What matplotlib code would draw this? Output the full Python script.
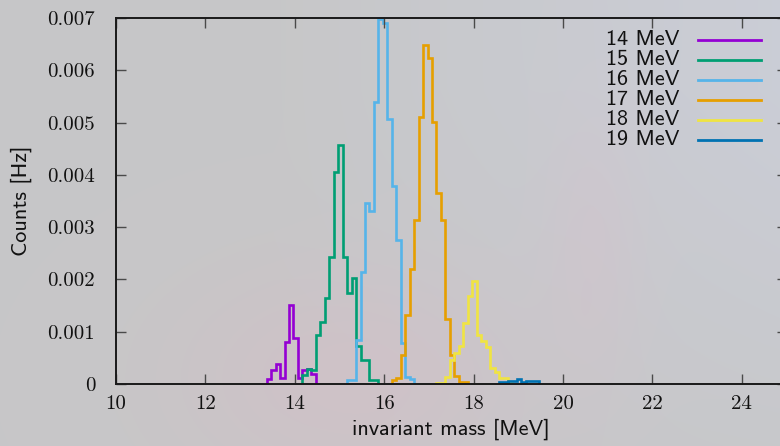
import numpy as np
import matplotlib
matplotlib.use("Agg")
import matplotlib.pyplot as plt
from matplotlib.lines import Line2D

plt.rcParams["axes.formatter.use_mathtext"] = True

# histogram data: 0.1 MeV bins, first bin edge for each beam energy
bin_width = 0.1
labels = ["14 MeV", "15 MeV", "16 MeV", "17 MeV", "18 MeV", "19 MeV"]
colors = ["#9400d3", "#009e73", "#56b4e9", "#e69f00", "#f0e442", "#0072b2"]
starts = [13.37, 14.17, 15.17, 16.17, 17.17, 18.57]

counts_14 = [0.00009, 0.00027, 0.00038, 0.00012, 0.00081, 0.00151, 0.00088,
             0.00011, 0.00026, 0.00029, 0.00020]
counts_15 = [0.00018, 0.00028, 0.00026, 0.00094, 0.00119, 0.00164, 0.00242,
             0.00406, 0.00458, 0.00242, 0.00174, 0.00202, 0.00073, 0.00046,
             0.00046, 0.00008, 0.00008]
counts_16 = [0.00008, 0.00008, 0.00084, 0.00215, 0.00346, 0.00330, 0.00539,
             0.00699, 0.00690, 0.00506, 0.00379, 0.00276, 0.00079, 0.00014,
             0.00009]
counts_17 = [0.00007, 0.00012, 0.00056, 0.00132, 0.00220, 0.00314, 0.00511,
             0.00648, 0.00624, 0.00501, 0.00365, 0.00313, 0.00124, 0.00056,
             0.00015, 0.00004, 0.00004]
counts_18 = [0.00002, 0.00002, 0.00014, 0.00046, 0.00060, 0.00073, 0.00116,
             0.00168, 0.00197, 0.00094, 0.00082, 0.00070, 0.00030, 0.00022,
             0.00011, 0.00011, 0.00002]
counts_19 = [0.00003, 0.00003, 0.00006, 0.00006, 0.00009, 0.00004, 0.00006,
             0.00005, 0.00005]
all_counts = [counts_14, counts_15, counts_16, counts_17, counts_18, counts_19]

xticks = [10, 12, 14, 16, 18, 20, 22, 24]
yticks = [0, 0.001, 0.002, 0.003, 0.004, 0.005, 0.006, 0.007]
ytick_labels = ["0", "0.001", "0.002", "0.003", "0.004", "0.005", "0.006", "0.007"]

W, H = 780, 446
fig = plt.figure(figsize=(W / 100, H / 100), dpi=100)

# soft grey backdrop with a bluish right side and a pink haze low in the middle
bg = fig.add_axes([0, 0, 1, 1], zorder=-10)
yy, xx = np.mgrid[0:1:H * 1j, 0:1:W * 1j]
img = np.ones((H, W, 3)) * np.array([0.780, 0.780, 0.785])
blue_w = np.clip((xx - 0.35) / 0.65, 0, 1) * np.clip(1.2 - yy, 0, 1)
img += blue_w[..., None] * np.array([0.015, 0.025, 0.055])
pink_w = np.exp(-(((xx - 0.45) / 0.22) ** 2 + ((yy - 0.85) / 0.25) ** 2))
pink_w += 0.6 * np.exp(-(((xx - 0.76) / 0.06) ** 2 + ((yy - 0.55) / 0.3) ** 2))
img += pink_w[..., None] * np.array([0.03, -0.02, -0.005])
bg.imshow(np.clip(img, 0, 1), aspect="auto", extent=[0, 1, 0, 1])
bg.set_axis_off()

ax = fig.add_axes([116 / W, 62 / H, 670.5 / W, 366 / H])
ax.set_facecolor("none")

for start, counts, color in zip(starts, all_counts, colors):
    edges = start + bin_width * np.arange(len(counts) + 1)
    ax.stairs(counts, edges, baseline=0, color=color, linewidth=1.9)

ax.set_xlim(10, 25)
ax.set_ylim(0, 0.007)
ax.set_xticks(xticks)
ax.set_xticklabels([str(t) for t in xticks], family="cmr10", fontsize=15)
ax.set_yticks(yticks)
ax.set_yticklabels(ytick_labels, family="cmr10", fontsize=15)
ax.tick_params(axis="both", direction="in", length=7.5, width=1.0,
               color="#4a4a4a", top=True, right=True, labelcolor="#111111")
ax.tick_params(axis="x", pad=8)
ax.tick_params(axis="y", pad=15)
for side in ax.spines.values():
    side.set_linewidth(1.4)
    side.set_color("#1a1a1a")

ax.set_xlabel("invariant mass [MeV]", family="cmss10", fontsize=16, color="#111111")
ax.xaxis.set_label_coords(0.5, -0.095)
ax.set_ylabel("Counts [Hz]", family="cmss10", fontsize=16, color="#111111")
ax.yaxis.set_label_coords(-0.125, 0.5)

# key in the upper right corner
for i, (label, color) in enumerate(zip(labels, colors)):
    yk = 1 - (39.5 + 20 * i) / H
    fig.text(606 / W, yk, label, family="cmss10", fontsize=16,
             ha="left", va="center", color="#111111")
    fig.add_artist(Line2D([698 / W, 761 / W], [yk, yk], transform=fig.transFigure,
                          color=color, linewidth=2.0))

fig.savefig("out.png", dpi=100)
